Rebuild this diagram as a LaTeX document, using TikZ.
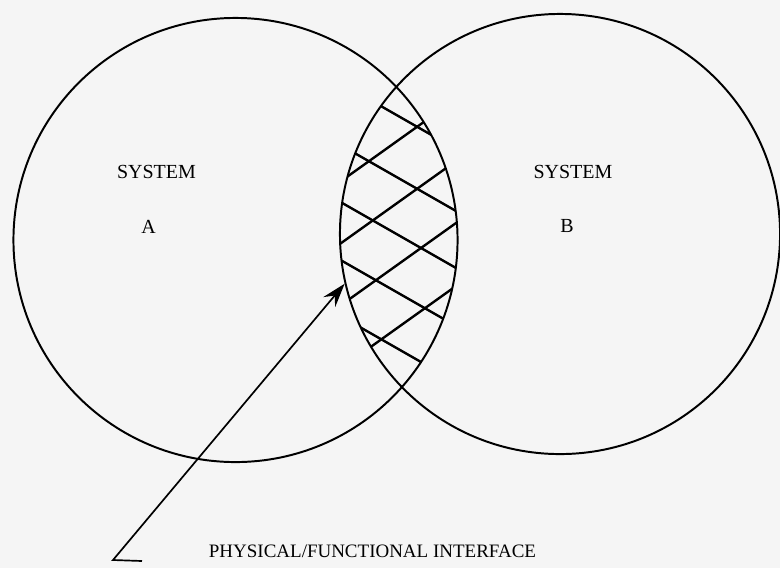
\documentclass[tikz,border=0pt]{standalone}
\usepackage{fontspec}
\setmainfont{Liberation Serif}
\usetikzlibrary{arrows.meta, positioning}

\begin{document}
\begin{tikzpicture}[
      x=0.025cm, y=-0.025cm,
      sys/.style={circle, draw, line width=1.4pt, inner sep=0pt},
      lbl/.style={font=\fontsize{14.2}{16}\selectfont},
      note/.style={font=\fontsize{13.5}{16}\selectfont},
      hatch/.style={line width=1.7pt},
    ]
      \useasboundingbox[fill=black!4] (0,0) rectangle (780,568);
      \node[sys, minimum size=11.1cm] (A) at (235.5,240) {};
      \node[sys, minimum size=11cm] (B) at (560,234) {};
      % cross hatching of the overlap
      \begin{scope}
        \clip (A.center) circle[radius=5.55cm];
        \clip (B.center) circle[radius=5.5cm];
        \foreach \c in {117,179,236,294,350}
          \draw[hatch] (330,\c-40) -- (470,\c+40);
        \foreach \c in {139,201,263,326}
          \draw[hatch] (330,\c+50) -- (470,\c-50);
      \end{scope}
      \node[lbl] (sysA) at (156.5,172) {SYSTEM};
      \node[lbl] (a) at (148.5,227) {A};
      \node[lbl] (sysB) at (573,172) {SYSTEM};
      \node[lbl] (b) at (567,226) {B};
      \node[note] (iface) at (372.5,551) {PHYSICAL/FUNCTIONAL INTERFACE};
      \coordinate (tail) at (113,560);
      \coordinate (foot) at (142,561);
      \draw[line width=1.2pt, -{Stealth[length=17pt, width=11pt, inset=6pt]}] (foot) -- (tail) -- (B.193);
    \end{tikzpicture}
\end{document}
